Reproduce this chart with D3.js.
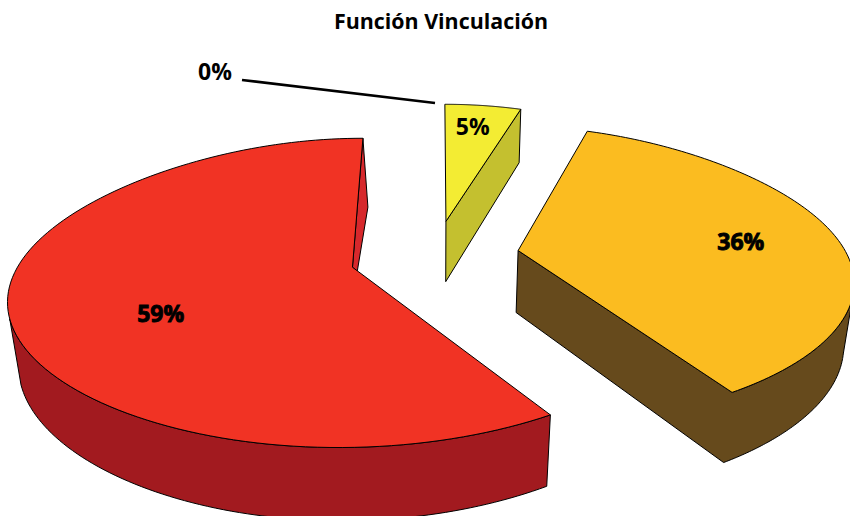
<!DOCTYPE html>
<html><head><meta charset="utf-8">
<script src="https://cdnjs.cloudflare.com/ajax/libs/d3/7.8.5/d3.min.js"></script>
<style>html,body{margin:0;background:#fff}svg{display:block}text{font-family:"Open Sans",sans-serif;font-weight:700;fill:#000}</style>
</head><body><svg id="c" width="850" height="516"></svg>
<script>
const title = "Función Vinculación";
const categories = ["A","B","C","D"];
const values = [0,5,36,59];
const labels = ["0%","5%","36%","59%"];
const topColors = ["#f3ec33","#f3ec33","#fbbc20","#f13324"];
const wallColors = ["#c4c02f","#c4c02f","#664a1c","#a21a1f"];
const sliverColor = "#d7282c";
const explode = [0,.225,.233,.247];
const liftY = [0,.03,.015,0];
const nudgeX = [0,-.009,0,0];
const wallFrom = [0,18,105,147.6];
const wallTo = [0,18,147.6,251];
const labelAngle = [0,8,85,241];
const labelRadius = [0,.79,.695,.61];
const boldStroke = [0,0,.9,.9];

const cam = {cx:437,cy:257,sx:353,sy:147,g:.164,gx:.216,ge:.14,h:.01,hx:.025,d:63};
const svg = d3.select("#c");
const rad = d => d*Math.PI/180;
const project = (ox,X,Y,z)=>{
  const w=1+cam.g*Y+cam.h*z, wx=1+cam.gx*Y+cam.hx*z, we=1+cam.ge*Y+cam.hx*z;
  return [cam.cx+cam.sx*(ox/we+X/wx),cam.cy+(-cam.sy*Y+cam.d*z)/w];
};
const warp = s => s*(.87+.065*s*s);
const arcs = d3.pie().sort(null).value(d=>d).startAngle(0).endAngle(2*Math.PI)(values);
const line = d3.line();
const sweep = (a,b,n)=>d3.range(0,n+1).map(k=>a+(b-a)*k/n);

function slicePoint(a,i){
  const mid=(a.startAngle+a.endAngle)/2, e=explode[i];
  const ox=e*Math.sin(mid)+nudgeX[i], oy=e*Math.cos(mid)+liftY[i];
  return (t,r,z)=>project(ox,r*warp(Math.sin(t)),oy+r*Math.cos(t),z);
}
const g=svg.append("g").attr("stroke","#000").attr("stroke-width",1).attr("stroke-linejoin","round");
[1,2,3].forEach(i=>{
  const a=arcs[i],P=slicePoint(a,i);
  const rim=sweep(a.startAngle,a.endAngle,120).map(t=>P(t,1,0));
  const wt=sweep(rad(wallFrom[i]),rad(wallTo[i]),80);
  const wallTop=wt.map(t=>P(t,1,0)), wallBot=wt.map(t=>P(t,1,1));
  const outline = i===3
    ? wallTop.concat(wallBot.slice().reverse())
    : [P(a.endAngle,0,0),P(a.endAngle,0,1)].concat(wallBot.slice().reverse(),wallTop);
  g.append("path").attr("d",line(outline)+"Z").attr("fill",wallColors[i]);
  if(i===3){
    const end=a.endAngle;
    g.append("path").attr("d",line([P(end,1,0),P(end+.012,1,1.25),P(a.startAngle,.03,0),P(end,0,0)])+"Z").attr("fill",sliverColor);
  }
  g.append("path").attr("d",line([P(a.startAngle,0,0)].concat(rim,[P(a.endAngle,0,0)]))+"Z").attr("fill",topColors[i]);
  const [lx,ly]=P(rad(labelAngle[i]),labelRadius[i],0);
  const tx=svg.append("text").attr("x",lx).attr("y",ly+8).attr("text-anchor","middle").attr("font-size",23).text(labels[i]);
  if(boldStroke[i]) tx.attr("stroke","#000").attr("stroke-width",boldStroke[i]);
});
svg.append("text").attr("x",441).attr("y",29).attr("text-anchor","middle").attr("font-size",21.4).text(title);
svg.append("text").attr("x",215).attr("y",80).attr("text-anchor","middle").attr("font-size",23).text(labels[0]);
svg.append("line").attr("x1",242).attr("y1",80).attr("x2",435).attr("y2",103).attr("stroke","#000").attr("stroke-width",2.6);
</script></body></html>
